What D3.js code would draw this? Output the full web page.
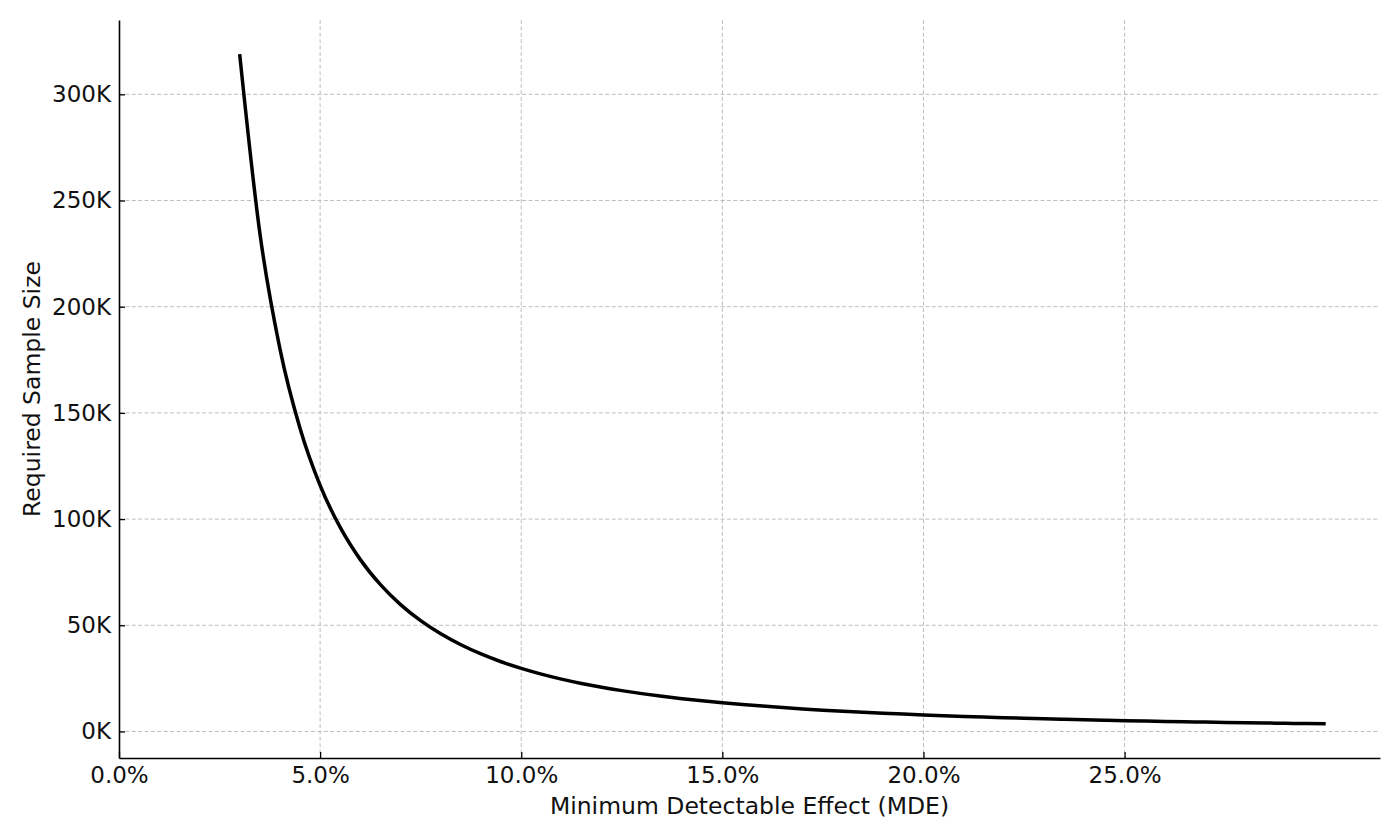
<!DOCTYPE html>
<html>
<head>
<meta charset="utf-8">
<script src="https://cdn.jsdelivr.net/npm/d3@7"></script>
<style>
  body { margin: 0; background: #fff; }
  svg text { font-family: "DejaVu Sans", sans-serif; fill: #111; }
</style>
</head>
<body>
<svg id="chart"></svg>
<script>
// MDE (fraction) vs required sample size
const mdeValues = [
  0.030, 0.035, 0.040, 0.045, 0.050, 0.055, 0.060, 0.065, 0.070, 0.075,
  0.080, 0.085, 0.090, 0.095, 0.100, 0.105, 0.110, 0.115, 0.120, 0.125,
  0.130, 0.135, 0.140, 0.145, 0.150, 0.155, 0.160, 0.165, 0.170, 0.175,
  0.180, 0.185, 0.190, 0.195, 0.200, 0.205, 0.210, 0.215, 0.220, 0.225,
  0.230, 0.235, 0.240, 0.245, 0.250, 0.255, 0.260, 0.265, 0.270, 0.275,
  0.280, 0.285, 0.290, 0.295, 0.300
];
const sampleSizes = [
  318900, 234900, 180300, 142800, 115900, 96060, 80910, 69110, 59730, 52160,
  45960, 40810, 36490, 32820, 29690, 27000, 24660, 22610, 20820, 19230,
  17820, 16560, 15440, 14430, 13510, 12680, 11930, 11240, 10620, 10040,
  9514, 9027, 8578, 8162, 7777, 7419, 7086, 6776, 6486, 6215,
  5961, 5723, 5499, 5289, 5090, 4904, 4727, 4561, 4403, 4254,
  4112, 3978, 3850, 3729, 3614
];
const xTickValues = [0, 0.05, 0.10, 0.15, 0.20, 0.25];
const yTickValues = [0, 50000, 100000, 150000, 200000, 250000, 300000];

const W = 1400, H = 840;
const margin = {top: 20, right: 20, bottom: 82, left: 119};

const svg = d3.select("#chart").attr("width", W).attr("height", H);

const x = d3.scaleLinear().domain([0, 0.3135]).range([margin.left, W - margin.right]);
const y = d3.scaleLinear().domain([-12500, 335000]).range([H - margin.bottom, margin.top]);

const data = mdeValues.map((m, i) => ({mde: m, n: sampleSizes[i]}));

// grid
const grid = svg.append("g").attr("class", "grid")
    .attr("stroke", "#bdbdbd").attr("stroke-width", 1).attr("stroke-dasharray", "4,2.4");
grid.selectAll("line.gx")
  .data(xTickValues.filter(d => d > 0))
  .join("line")
    .attr("x1", d => x(d)).attr("x2", d => x(d))
    .attr("y1", margin.top).attr("y2", H - margin.bottom);
grid.selectAll("line.gy")
  .data(yTickValues)
  .join("line")
    .attr("x1", margin.left).attr("x2", W - margin.right)
    .attr("y1", d => y(d)).attr("y2", d => y(d));

// curve
const line = d3.line()
    .x(d => x(d.mde))
    .y(d => y(d.n))
    .curve(d3.curveMonotoneX);

svg.append("path")
    .datum(data)
    .attr("fill", "none")
    .attr("stroke", "#000")
    .attr("stroke-width", 3.5)
    .attr("d", line);

// axes (ticks pointing inward)
const xAxis = d3.axisBottom(x)
    .tickValues(xTickValues)
    .tickFormat(d3.format(".1%"))
    .tickSizeInner(-6).tickSizeOuter(0).tickPadding(9);

const yAxis = d3.axisLeft(y)
    .tickValues(yTickValues)
    .tickFormat(d => (d / 1000) + "K")
    .tickSizeInner(-6).tickSizeOuter(0).tickPadding(8);

const gx = svg.append("g")
    .attr("transform", `translate(0,${H - margin.bottom})`)
    .call(xAxis);
const gy = svg.append("g")
    .attr("transform", `translate(${margin.left},0)`)
    .call(yAxis);

[gx, gy].forEach(g => {
  g.select(".domain").attr("stroke", "#000").attr("stroke-width", 1.6);
  g.selectAll(".tick line").attr("stroke", "#000").attr("stroke-width", 1.3);
  g.selectAll(".tick text").attr("font-size", 23).attr("font-family", "DejaVu Sans").attr("fill", "#111");
});
gx.selectAll(".tick text").attr("dy", "0.71em");

// axis titles
svg.append("text")
    .attr("x", (margin.left + W - margin.right) / 2)
    .attr("y", 814)
    .attr("text-anchor", "middle")
    .attr("font-size", 23.5)
    .text("Minimum Detectable Effect (MDE)");

svg.append("text")
    .attr("transform", `translate(40,${(margin.top + H - margin.bottom) / 2}) rotate(-90)`)
    .attr("text-anchor", "middle")
    .attr("font-size", 23.5)
    .text("Required Sample Size");
</script>
</body>
</html>
